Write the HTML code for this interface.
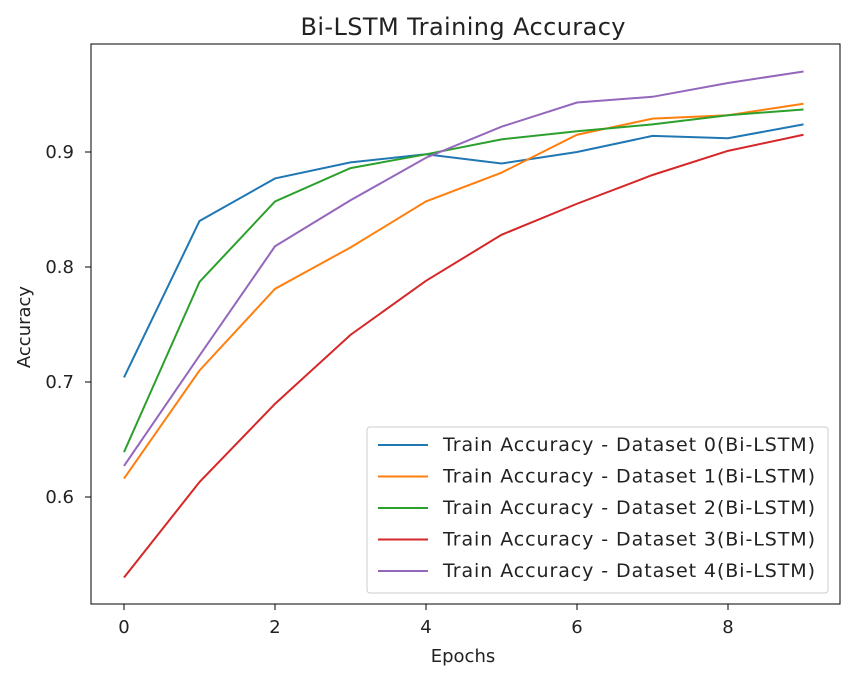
<!DOCTYPE html>
<html><head><meta charset="utf-8"><style>
body{margin:0;background:#fff;}
svg text{font-family:"DejaVu Sans","Liberation Sans",sans-serif;fill:#222;}
</style></head><body>
<svg id="chart" width="847" height="677" xmlns="http://www.w3.org/2000/svg">
<rect width="847" height="677" fill="#fff"/>
<text x="463" y="35" font-size="24" text-anchor="middle" textLength="325">Bi-LSTM Training Accuracy</text>
<g id="plot"></g>
<rect x="91" y="44" width="749" height="560" fill="none" stroke="#000" stroke-width="1"/>
<text x="463" y="662" font-size="18" text-anchor="middle">Epochs</text>
<text x="30" y="327" font-size="18" text-anchor="middle" transform="rotate(-90 30 327)">Accuracy</text>
<g id="legend"></g>
</svg>
<script>
const epochs=[0,1,2,3,4,5,6,7,8,9];
const xTicks=[0,2,4,6,8];
const yTicks=[0.6,0.7,0.8,0.9];
const seriesNames=["Train Accuracy - Dataset 0(Bi-LSTM)","Train Accuracy - Dataset 1(Bi-LSTM)","Train Accuracy - Dataset 2(Bi-LSTM)","Train Accuracy - Dataset 3(Bi-LSTM)","Train Accuracy - Dataset 4(Bi-LSTM)"];
const d0=[0.704,0.840,0.877,0.891,0.898,0.890,0.900,0.914,0.912,0.924];
const d1=[0.616,0.710,0.781,0.817,0.857,0.882,0.915,0.929,0.932,0.942];
const d2=[0.639,0.787,0.857,0.886,0.898,0.911,0.918,0.924,0.932,0.937];
const d3=[0.530,0.613,0.681,0.741,0.788,0.828,0.855,0.880,0.901,0.915];
const d4=[0.627,0.723,0.818,0.858,0.895,0.922,0.943,0.948,0.960,0.970];
const colors=["#1f77b4","#ff7f0e","#2ca02c","#d62728","#9467bd"];
const NS="http://www.w3.org/2000/svg";
const xS=v=>124+v*75.5;
const yS=v=>152-(v-0.9)*1150;
const plot=document.getElementById('plot');
function mk(t,a){const e=document.createElementNS(NS,t);for(const k in a)e.setAttribute(k,a[k]);return e;}
xTicks.forEach(t=>{
 const l=mk('line',{x1:xS(t),x2:xS(t),y1:604,y2:610,stroke:'#000'});
 
 
 plot.appendChild(l);
 const tx=mk('text',{x:xS(t),y:633,'font-size':18,'text-anchor':'middle'});tx.textContent=t;
 
 
 plot.appendChild(tx);
});
yTicks.forEach(t=>{
 const l=mk('line',{x1:85,x2:91,y1:yS(t),y2:yS(t),stroke:'#000'});
 
 
 plot.appendChild(l);
 const tx=mk('text',{x:74,y:yS(t)+6,'font-size':18,'text-anchor':'end'});tx.textContent=t.toFixed(1);
 
 
 plot.appendChild(tx);
});
[d0,d1,d2,d3,d4].forEach((s,i)=>{
 const p=mk('polyline',{points:s.map((v,j)=>xS(epochs[j])+','+yS(v)).join(' '),fill:'none',stroke:colors[i],'stroke-width':2});
 
 
 plot.appendChild(p);
});
const lg=document.getElementById('legend');
const box=mk('rect',{x:367,y:427,width:461,height:166,rx:3,fill:'#fff','fill-opacity':0.8,stroke:'#ccc'});


lg.appendChild(box);
seriesNames.forEach((n,i)=>{
 const y=445+i*31.5;
 const l=mk('line',{x1:378,x2:428,y1:y,y2:y,stroke:colors[i],'stroke-width':2});
 
 
 lg.appendChild(l);
 const t=mk('text',{x:443,y:y+6,'font-size':19,textLength:372});t.textContent=n;
 
 
 lg.appendChild(t);
});
</script>
</body></html>
